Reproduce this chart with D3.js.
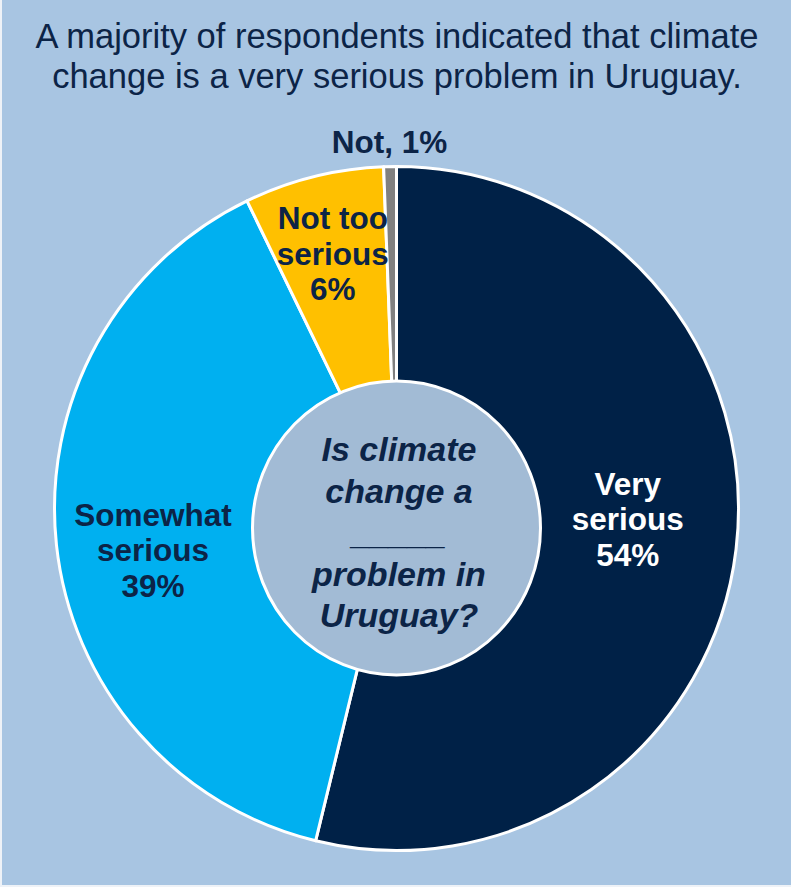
<!DOCTYPE html>
<html><head><meta charset="utf-8">
<script src="https://cdn.jsdelivr.net/npm/d3@7"></script>
<style>
html,body{margin:0;padding:0;background:#eef2f7;}
svg{display:block;font-family:"Liberation Sans",Arial,sans-serif;}
</style>
</head><body>
<svg id="chart" width="791" height="887"></svg>
<script>
// ---- data ----
const categories = ["Very serious", "Somewhat serious", "Not too serious", "Not"];
const values = [53.8, 39.0, 6.6, 0.6];
const percentLabels = ["54%", "39%", "6%", "1%"];
const labelLines = [["Very", "serious", "54%"], ["Somewhat", "serious", "39%"], ["Not too", "serious", "6%"], ["Not, 1%"]];
const titleLines = ["A majority of respondents indicated that climate", "change is a very serious problem in Uruguay."];
const centerLines = ["Is climate", "change a", "_____", "problem in", "Uruguay?"];

// ---- styles / layout ----
const colors = ["#002147", "#00b0f0", "#ffc000", "#808080"];
const labelColors = ["#ffffff", "#0c2447", "#0c2447", "#0c2447"];
const labelRadius = [250, 250, 250, 366];
const labelNudge = [[-17, -19], [5, 15], [-3, -12], [0, -1]];

const svg = d3.select("#chart");
const W = 791, H = 887;
svg.append("rect").attr("x", 2).attr("y", 0).attr("width", W - 2).attr("height", 885).attr("fill", "#a8c5e2");

const title = svg.append("text").attr("text-anchor", "middle").attr("fill", "#0c2447")
  .style("font-size", "34.5px");
titleLines.forEach((t, i) => title.append("tspan").attr("x", 397).attr("y", 48 + i * 40).text(t));

const cx = 396.5, cy = 508.5, R = 342;
const g = svg.append("g").attr("transform", `translate(${cx},${cy})`);
const pie = d3.pie().sort(null).value(d => d);
const arcs = pie(values);
const arc = d3.arc().innerRadius(110).outerRadius(R);

g.selectAll("path.slice").data(arcs).join("path").attr("class", "slice")
  .attr("d", arc).attr("fill", (d, i) => colors[i])
  .attr("stroke", "#ffffff").attr("stroke-width", 3).attr("stroke-linejoin", "round");

// centre ellipse
svg.append("ellipse").attr("cx", 396.5).attr("cy", 528).attr("rx", 144).attr("ry", 147)
  .attr("fill", "#a2bbd5").attr("stroke", "#ffffff").attr("stroke-width", 3);

const ct = svg.append("text").attr("text-anchor", "middle").attr("fill", "#0c2447")
  .style("font-size", "34px").style("font-weight", "bold").style("font-style", "italic");
centerLines.forEach((t, i) => ct.append("tspan").attr("x", 399).attr("y", 461 + i * 41.5).text(t));

// slice labels
arcs.forEach((d, i) => {
  const la = d3.arc().innerRadius(labelRadius[i]).outerRadius(labelRadius[i]);
  const [x0, y0] = la.centroid(d);
  const x = cx + x0 + labelNudge[i][0], y = cy + y0 + labelNudge[i][1];
  const lines = labelLines[i];
  const lh = 35.5;
  const t = svg.append("text").attr("text-anchor", "middle").attr("fill", labelColors[i])
    .style("font-size", "31.5px").style("font-weight", "bold");
  lines.forEach((s, j) => t.append("tspan").attr("x", x)
    .attr("y", y + (j - (lines.length - 1) / 2) * lh).attr("dy", "0.35em").text(s));
});
</script>
</body></html>
